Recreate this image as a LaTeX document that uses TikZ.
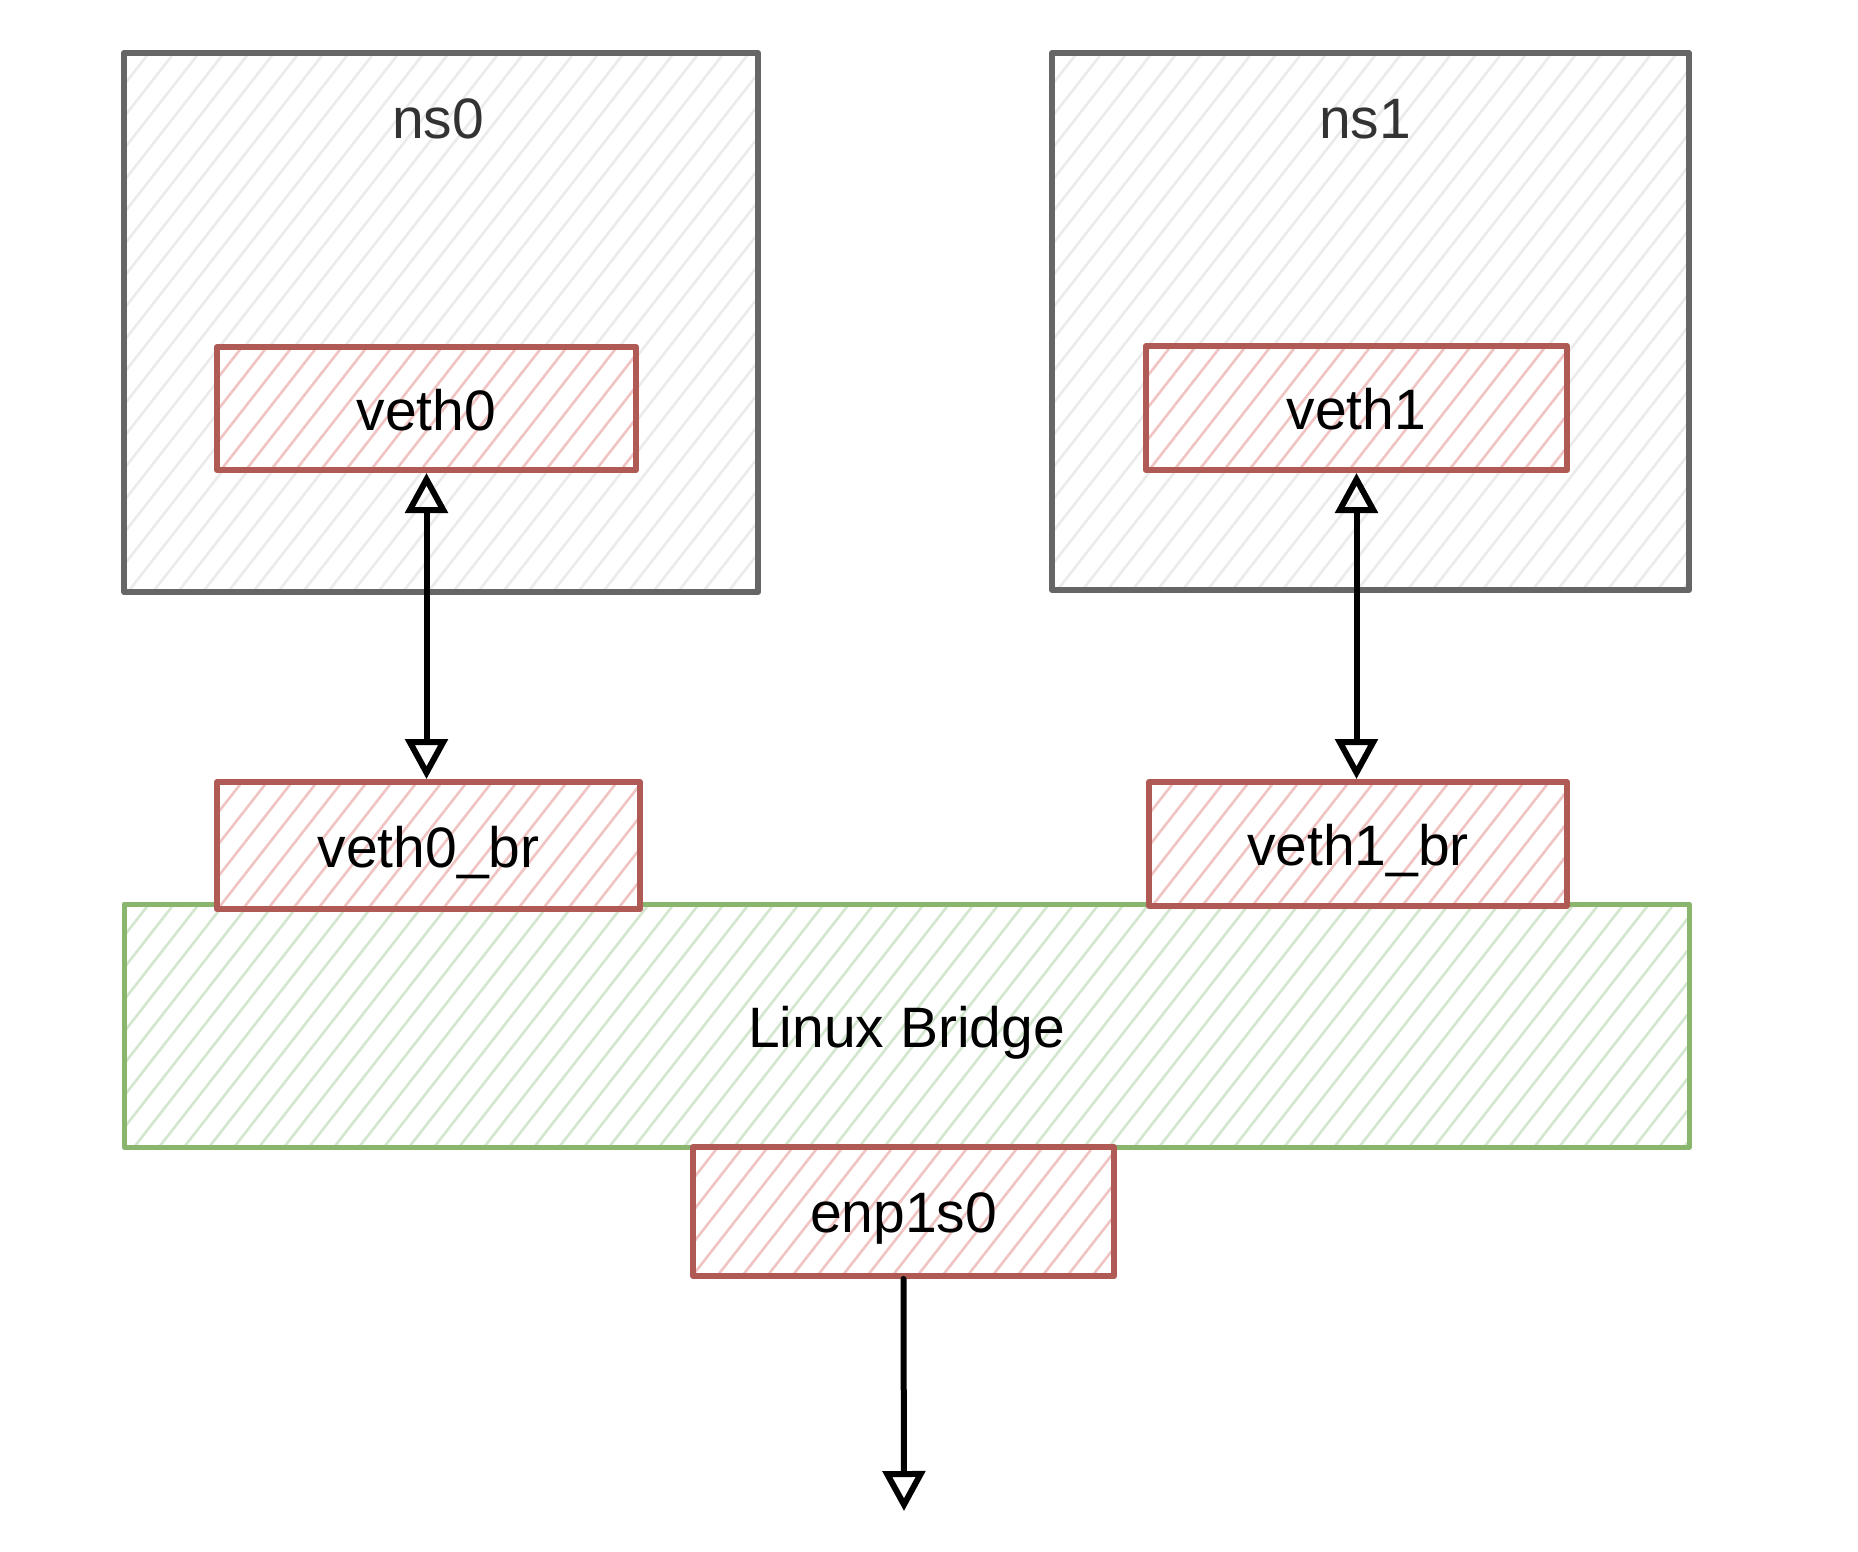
\documentclass[tikz,border=0pt]{standalone}
\usepackage{fontspec}
\setmainfont{Liberation Sans}
\usetikzlibrary{arrows.meta}
\definecolor{grayS}{HTML}{666666}
\definecolor{grayH}{HTML}{EBEBEB}
\definecolor{redS}{HTML}{B05A55}
\definecolor{redH}{HTML}{F0C4C2}
\definecolor{greenS}{HTML}{8AB56C}
\definecolor{greenH}{HTML}{D3E6CE}
\definecolor{txt}{HTML}{333333}
\newcommand\hatchfill[5]{%
  \fill[white] (#1,#2) rectangle (#3,#4);
  \begin{scope}
    \clip (#1,#2) rectangle (#3,#4);
    \pgfmathsetmacro\hh{(#4-#2)/1.28}
    \pgfmathsetmacro\xs{#1-\hh}
    \pgfmathsetmacro\xn{\xs+25}
    \foreach \xx in {\xs,\xn,...,#3} {
      \draw[#5, line width=2.6pt] (\xx,#4) -- ++(\hh,#2-#4);
    }
  \end{scope}}
\tikzset{
  nsbox/.style={draw=grayS, line width=6pt, line join=round, inner sep=0pt},
  redbox/.style={draw=redS, line width=6pt, line join=round, inner sep=0pt, text=black},
  greenbox/.style={draw=greenS, line width=5pt, line join=round, inner sep=0pt, text=black},
  lbl/.style={font=\fontsize{57}{68}\selectfont, text depth=0pt, yshift=-1pt},
  arr/.style={line width=6pt, draw=black, line cap=round, line join=round,
    >={Triangle[open, length=40pt, width=42pt, line width=6pt]}}
}
\begin{document}
\begin{tikzpicture}[x=1pt, y=-1pt]
\useasboundingbox (0,0) rectangle (1858,1552);
% namespaces
\hatchfill{124}{53}{758}{592}{grayH}
\node[nsbox, minimum width=634pt, minimum height=539pt] (ns0) at (441,322.5) {};
\node[lbl, text=txt] (ns0t) at (438,118) {ns0};
\hatchfill{1052}{53}{1689}{590}{grayH}
\node[nsbox, minimum width=637pt, minimum height=537pt] (ns1) at (1370.5,321.5) {};
\node[lbl, text=txt] (ns1t) at (1365,118) {ns1};
% veth in namespaces
\hatchfill{217}{347}{636}{470}{redH}
\node[redbox, minimum width=419pt, minimum height=123pt] (veth0) at (426.5,408.5) {};
\node[lbl] (veth0t) at (veth0) {veth0};
\hatchfill{1146}{346}{1567}{470}{redH}
\node[redbox, minimum width=421pt, minimum height=124pt] (veth1) at (1356.5,408) {};
\node[lbl] (veth1t) at (veth1) {veth1};
% bridge
\hatchfill{124}{904}{1689}{1147}{greenH}
\node[greenbox, minimum width=1565pt, minimum height=243pt] (br) at (906.5,1025.5) {};
\node[lbl] (brt) at (br) {Linux Bridge};
% bridge ports
\hatchfill{217}{782}{640}{909}{redH}
\node[redbox, minimum width=423pt, minimum height=127pt] (veth0br) at (428.5,845.5) {};
\node[lbl] (veth0brt) at (veth0br) {veth0\_br};
\hatchfill{1149}{782}{1567}{906}{redH}
\node[redbox, minimum width=418pt, minimum height=124pt] (veth1br) at (1358,844) {};
\node[lbl] (veth1brt) at (veth1br) {veth1\_br};
\hatchfill{693}{1147}{1114}{1276}{redH}
\node[redbox, minimum width=421pt, minimum height=129pt] (enp) at (903.5,1211.5) {};
\node[lbl] (enpt) at (enp) {enp1s0};
% connectors
\coordinate (out) at (904,1511);
\draw[arr, <->] (veth0.south) -- (veth0br.north -| veth0.south);
\draw[arr, <->] (veth1.south) -- (veth1br.north -| veth1.south);
\draw[arr, ->] (enp.south) -- (out);
\end{tikzpicture}
\end{document}
